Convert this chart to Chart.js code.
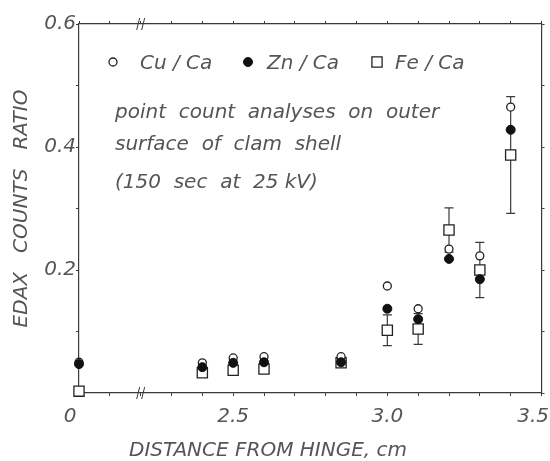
<!DOCTYPE html>
<html>
<head>
<meta charset="utf-8">
<script src="https://cdn.jsdelivr.net/npm/chart.js@4/dist/chart.umd.min.js"></script>
<style>
  html, body { margin: 0; padding: 0; background: #fff; }
  #wrap { width: 550px; height: 461px; position: relative; }
</style>
</head>
<body>
<div id="wrap"><canvas id="chart"></canvas></div>
<script>
// distance from hinge (cm) and EDAX count ratios
const distance = [0, 2.40, 2.50, 2.60, 2.85, 3.00, 3.10, 3.20, 3.30, 3.40];
const cuCa = [0.050, 0.049, 0.057, 0.059, 0.059, 0.174, 0.137, 0.234, 0.223, 0.465];
const znCa = [0.047, 0.042, 0.049, 0.050, 0.050, 0.137, 0.120, 0.218, 0.185, 0.428];
const feCa = [0.003, 0.033, 0.037, 0.039, 0.049, 0.102, 0.104, 0.265, 0.200, 0.387];
const feErr = [null, null, null, null, null, 0.025, 0.025, 0.036, 0.045, 0.095];

const xTickValues = [0, 2.5, 3.0, 3.5];
const xTickLabels = ['0', '2.5', '3.0', '3.5'];
const yTickValues = [0.2, 0.4, 0.6];
const yTickLabels = ['0.2', '0.4', '0.6'];
const seriesNames = ['Cu / Ca', 'Zn / Ca', 'Fe / Ca'];
const noteLines = ['point  count  analyses  on  outer', 'surface  of  clam  shell', '(150  sec  at  25 kV)'];

// broken x axis: everything below the break is drawn from 2.0 onwards
const breakStart = 2.0;
const breakMark = 2.2;
const plotX = d => (d < breakStart ? breakStart + d : d);
const toPoints = vals => distance.map((d, i) => ({ x: plotX(d), y: vals[i] }));

const ink = '#3a3a3a';
const txt = '#555';
const family = '"DejaVu Sans", sans-serif';
const fontSpec = size => ({ family, size, style: 'italic', weight: '200' });
const cssFont = size => `italic 200 ${size}px ${family}`;

const styles = {
  cu: { pointStyle: 'circle', pointRadius: 4, backgroundColor: '#fff', borderColor: '#222', borderWidth: 1.3 },
  zn: { pointStyle: 'circle', pointRadius: 4.5, backgroundColor: '#111', borderColor: '#111', borderWidth: 1 },
  fe: { pointStyle: 'rect', pointRadius: 7.2, backgroundColor: '#fff', borderColor: '#222', borderWidth: 1.3 },
};

function drawMarker(ctx, s, x, y) {
  ctx.save();
  ctx.fillStyle = s.backgroundColor;
  ctx.strokeStyle = s.borderColor;
  ctx.lineWidth = s.borderWidth;
  ctx.beginPath();
  if (s.pointStyle === 'rect') {
    const h = s.pointRadius * Math.SQRT1_2;
    ctx.rect(x - h, y - h, 2 * h, 2 * h);
  } else {
    ctx.arc(x, y, s.pointRadius, 0, Math.PI * 2);
  }
  ctx.fill();
  ctx.stroke();
  ctx.restore();
}

const decor = {
  id: 'decor',
  beforeDatasetsDraw(chart) {
    // error bars on Fe/Ca
    const { ctx, scales: { x, y } } = chart;
    ctx.save();
    ctx.strokeStyle = ink;
    ctx.lineWidth = 1.2;
    distance.forEach((d, i) => {
      if (feErr[i] == null) return;
      const px = x.getPixelForValue(plotX(d));
      const top = y.getPixelForValue(feCa[i] + feErr[i]);
      const bot = y.getPixelForValue(feCa[i] - feErr[i]);
      ctx.beginPath();
      ctx.moveTo(px, top); ctx.lineTo(px, bot);
      ctx.moveTo(px - 4.5, top); ctx.lineTo(px + 4.5, top);
      ctx.moveTo(px - 4.5, bot); ctx.lineTo(px + 4.5, bot);
      ctx.stroke();
    });
    ctx.restore();
  },
  afterDraw(chart) {
    const { ctx, scales: { x }, chartArea } = chart;
    ctx.save();

    // axis break marks
    const bx = x.getPixelForValue(breakMark);
    ctx.strokeStyle = ink;
    ctx.lineWidth = 1;
    [chartArea.top, chartArea.bottom].forEach(ay => {
      ctx.beginPath();
      ctx.moveTo(bx - 4, ay + 6); ctx.lineTo(bx - 1, ay - 6);
      ctx.moveTo(bx + 1, ay + 6); ctx.lineTo(bx + 4, ay - 6);
      ctx.stroke();
    });

    ctx.fillStyle = txt;
    ctx.font = cssFont(20);
    ctx.textBaseline = 'alphabetic';

    // x tick labels
    xTickValues.forEach((v, i) => {
      const px = x.getPixelForValue(plotX(v));
      const w = ctx.measureText(xTickLabels[i]).width;
      let cx = Math.min(px, chart.width - w / 2 - 1);
      if (v < breakStart) cx = px - 9;
      ctx.textAlign = 'center';
      ctx.fillText(xTickLabels[i], cx, 422);
    });

    // x title
    ctx.textAlign = 'center';
    ctx.fillText('DISTANCE FROM HINGE, cm', 268, 456);

    // legend
    ctx.textAlign = 'left';
    const legendMarkX = [113, 248, 377];
    const legendTextX = [140, 267, 395];
    [styles.cu, styles.zn, styles.fe].forEach((s, i) => {
      drawMarker(ctx, s, legendMarkX[i], 62);
      ctx.fillStyle = txt;
      ctx.fillText(seriesNames[i], legendTextX[i], 69);
    });

    // note
    const noteY = [118, 150, 188];
    noteLines.forEach((line, i) => ctx.fillText(line, 115, noteY[i]));

    ctx.restore();
  }
};

const tickLabel = (values, labels) => v => {
  const i = values.findIndex(t => Math.abs(t - v) < 1e-6);
  return i < 0 ? '' : labels[i];
};

new Chart(document.getElementById('chart'), {
  type: 'scatter',
  data: {
    datasets: [
      { label: seriesNames[1], data: toPoints(znCa), order: 0, clip: false, ...styles.zn },
      { label: seriesNames[0], data: toPoints(cuCa), order: 1, clip: false, ...styles.cu },
      { label: seriesNames[2], data: toPoints(feCa), order: 2, clip: false, ...styles.fe },
    ],
  },
  options: {
    responsive: true,
    maintainAspectRatio: false,
    animation: false,
    layout: { padding: 0 },
    plugins: {
      legend: { display: false },
      tooltip: { enabled: false },
    },
    scales: {
      x: {
        type: 'linear',
        position: 'bottom',
        min: breakStart,
        max: 3.5,
        afterFit: s => { s.height = 68; },
        border: { color: ink, width: 1.2 },
        grid: { drawOnChartArea: false, tickLength: 3, color: ink },
        ticks: { stepSize: 0.1, display: false },
      },
      y: {
        type: 'linear',
        position: 'left',
        min: 0,
        max: 0.6,
        afterFit: s => { s.width = 79; },
        border: { color: ink, width: 1.2 },
        grid: { drawOnChartArea: false, tickLength: 3, color: ink },
        ticks: {
          stepSize: 0.1,
          padding: 0,
          color: txt,
          font: fontSpec(20),
          callback: tickLabel(yTickValues, yTickLabels),
        },
        title: {
          display: true,
          text: 'EDAX   COUNTS   RATIO',
          color: txt,
          font: fontSpec(20),
          padding: { top: 10, bottom: 0 },
        },
      },
      x2: {
        type: 'linear',
        position: 'top',
        min: breakStart,
        max: 3.5,
        afterFit: s => { s.height = 24; },
        border: { color: ink, width: 1.2 },
        grid: { drawOnChartArea: false, tickLength: 3, color: ink },
        ticks: { stepSize: 0.1, display: false },
      },
      y2: {
        type: 'linear',
        position: 'right',
        min: 0,
        max: 0.6,
        afterFit: s => { s.width = 3; },
        border: { color: ink, width: 1.2 },
        grid: { drawOnChartArea: false, tickLength: 3, color: ink },
        ticks: { stepSize: 0.1, display: false },
      },
    },
  },
  plugins: [decor],
});
</script>
</body>
</html>
